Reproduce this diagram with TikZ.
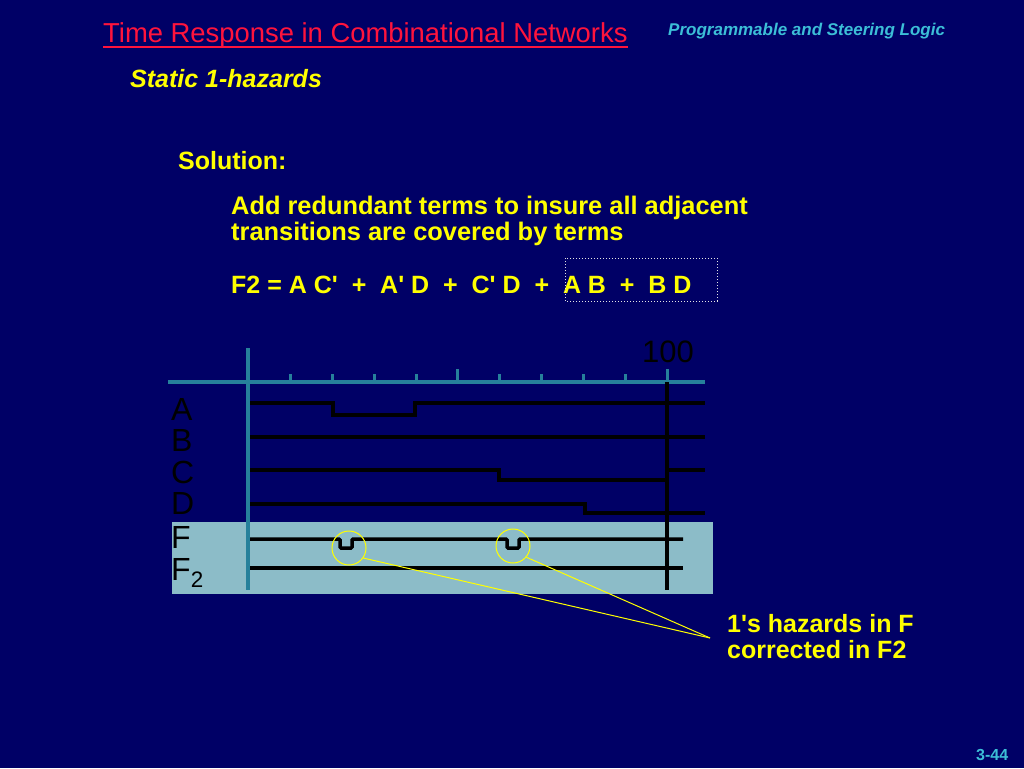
\documentclass[tikz,border=0pt]{standalone}
\usepackage{fontspec}
\setmainfont{Liberation Sans}
\definecolor{bg}{RGB}{0,0,102}
\definecolor{ttlred}{RGB}{255,20,60}
\definecolor{hdrcyan}{RGB}{60,190,215}
\definecolor{teal}{RGB}{38,128,155}
\definecolor{lblue}{RGB}{140,188,200}
\definecolor{ylw}{RGB}{255,255,0}
\newcommand{\sq}{\textquotesingle}
\tikzset{
  fs/.style={font=\fontsize{#1}{#1}\selectfont},
  bfs/.style={font=\bfseries\fontsize{#1}{#1}\selectfont},
  bis/.style={font=\bfseries\itshape\fontsize{#1}{#1}\selectfont},
  txt/.style={inner sep=0pt, anchor=base west},
  sig/.style={line width=3.5pt, black},
  axis/.style={line width=3.5pt, teal},
  tick/.style={line width=3pt, teal},
  hz/.style={ylw, line width=1pt},
  lbl/.style={txt, fs=32, black},
}
\begin{document}
\begin{tikzpicture}[x=1pt,y=-1pt]
\fill[bg] (0,0) rectangle (1024,768);
\useasboundingbox (0,0) rectangle (1024,768);
% header
\node[txt, fs=27.4, text=ttlred] (title) at (103,43) {Time Response in Combinational Networks};
\draw[ttlred, line width=1.6pt] ([yshift=-4pt]title.base west) -- ([yshift=-4pt]title.base east);
\node[txt, bis=17, text=hdrcyan] (sub) at (668,36) {Programmable and Steering Logic};
\node[txt, bis=25, text=ylw] (st) at (130,87) {Static 1-hazards};
\node[txt, bfs=25, text=ylw] (sol) at (178,169) {Solution:};
\node[txt, bfs=25.4, text=ylw] (l1) at (231,214) {Add redundant terms to insure all adjacent};
\node[txt, bfs=25.4, text=ylw] (l2) at (231,240) {transitions are covered by terms};
\node[txt, bfs=25, text=ylw] (eq) at (231,293) {F2 = A C\sq\ \ +\ \ A\sq\ D\ \ +\ \ C\sq\ D\ \ +\ \ A B\ \ +\ \ B D};
\draw[white!80!gray, dotted, line width=1pt] (565,258) rectangle (717,301);
% timing diagram
\fill[lblue] (172,522) rectangle (713,594);
\draw[axis] (248,348) -- (248,590);
\draw[axis] (168,382) -- (705,382);
\foreach \x in {290,332,374,416,499,541,583,625} \draw[tick] (\x,374) -- (\x,382);
\foreach \x in {457.5,667} \draw[tick] (\x,369) -- (\x,382);
\node[inner sep=0pt, anchor=base, fs=31, text=black] (hundred) at (668,362) {100};
\draw[line width=3.5pt, black] (667,382) -- (667,590);
% signals
\draw[sig] (250,403) -- (333,403) -- (333,415) -- (415,415) -- (415,403) -- (705,403);
\draw[sig] (250,437) -- (705,437);
\draw[sig] (250,470) -- (499,470) -- (499,480) -- (667,480) (667,470) -- (705,470);
\draw[sig] (250,504) -- (585,504) -- (585,513) -- (705,513);
\draw[sig, rounded corners=1pt] (250,539) -- (340,539) -- (340,548) -- (352,548) -- (352,539) -- (507,539) -- (507,548) -- (519,548) -- (519,539) -- (683,539);
\draw[sig] (250,568) -- (683,568);
% labels
\node[lbl] (la) at (171,420) {A};
\node[lbl] (lb) at (171,451) {B};
\node[lbl] (lc) at (171,483) {C};
\node[lbl] (ld) at (171,514) {D};
\node[lbl] (lf) at (171,548) {F};
\node[lbl] (lf2) at (171,580) {F\textsubscript{2}};
% hazards
\node[hz, draw, circle, minimum size=34pt, inner sep=0pt] (c1) at (349,548) {};
\node[hz, draw, circle, minimum size=34pt, inner sep=0pt] (c2) at (513,546) {};
\coordinate (meet) at (710,638);
\draw[hz] (c1.-35) -- (meet);
\draw[hz] (c2.-40) -- (meet);
\node[txt, bfs=25, text=ylw] (n1) at (727,632) {1\sq s hazards in F};
\node[txt, bfs=25, text=ylw] (n2) at (727,658) {corrected in F2};
\node[txt, bfs=16, text=hdrcyan] (pg) at (976,760) {3-44};
\end{tikzpicture}
\end{document}
